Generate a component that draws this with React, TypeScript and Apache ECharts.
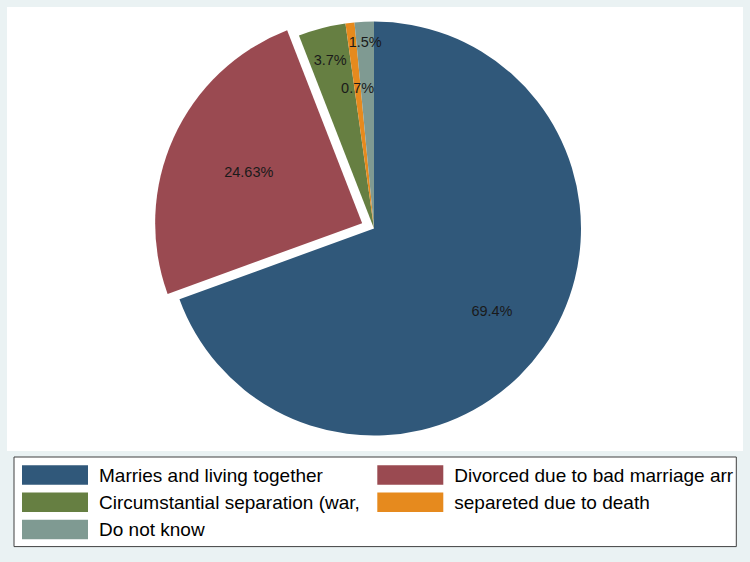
import React, { useEffect, useRef } from "react";
import * as echarts from "echarts";

// ---- data ----
const categories = [
  "Marries and living together",
  "Divorced due to bad marriage arr",
  "Circumstantial separation (war,",
  "separeted due to death",
  "Do not know",
];
const shares = [69.4, 24.63, 3.7, 0.7, 1.5];
const exploded = [false, true, false, false, false];

// ---- styles ----
const colors = ["#30587A", "#9A4A51", "#667F42", "#E68A1E", "#7F9A92"];
const labelRadii = [141, 134.5, 171, 138, 184];
const CENTER = [374, 228.5];
const FONT = "'Liberation Sans', Arial, sans-serif";

export default function App() {
  const ref = useRef<HTMLDivElement>(null);

  useEffect(() => {
    if (!ref.current) return;
    const chart = echarts.init(ref.current, undefined, { renderer: "svg" });

    const mainData = categories.map((name, i) => ({
      name,
      value: shares[i],
      selected: exploded[i],
      itemStyle: { color: colors[i] },
    }));

    const labelSeries = categories.map((_, i) => ({
      type: "pie",
      silent: true,
      legendHoverLink: false,
      center: CENTER,
      radius: [labelRadii[i] - 0.5, labelRadii[i] + 0.5],
      startAngle: 90,
      clockwise: true,
      z: 5,
      data: categories.map((name, j) => ({
        name,
        value: shares[j],
        itemStyle: { color: "transparent" },
        label: { show: j === i },
      })),
      label: {
        position: "inside",
        formatter: (p: any) => `${p.value}%`,
        color: "#1a1a1a",
        fontSize: 14.5,
        fontFamily: FONT,
      },
      labelLine: { show: false },
      emphasis: { disabled: true },
    }));

    chart.setOption({
      animation: false,
      backgroundColor: "#EAF2F3",
      graphic: [
        {
          type: "rect",
          left: 7,
          top: 7,
          shape: { width: 736, height: 444 },
          style: { fill: "#ffffff" },
          z: 0,
        },
      ],
      legend: {
        left: 14,
        top: 457,
        width: 722,
        orient: "horizontal",
        padding: [8, 2, 7, 8],
        itemWidth: 66,
        itemHeight: 19.5,
        itemGap: 7.3,
        icon: "rect",
        backgroundColor: "#ffffff",
        borderColor: "#404040",
        borderWidth: 1,
        selectedMode: false,
        data: categories.map((name, i) => ({
          name,
          textStyle: { width: i === 1 ? 280 : 271 },
        })),
        textStyle: {
          fontFamily: FONT,
          fontSize: 19,
          color: "#000000",
          width: 271,
          overflow: "truncate",
          ellipsis: "",
          padding: [0, 0, 0, 6],
          lineHeight: 20,
        },
      },
      series: [
        {
          type: "pie",
          center: CENTER,
          radius: 207,
          startAngle: 90,
          clockwise: true,
          selectedMode: "single",
          selectedOffset: 13,
          data: mainData,
          label: { show: false },
          labelLine: { show: false },
          itemStyle: { borderWidth: 0 },
          emphasis: { disabled: true },
          z: 2,
        },
        ...labelSeries,
      ],
    });

    return () => chart.dispose();
  }, []);

  return (
    <div
      ref={ref}
      style={{ position: "fixed", left: 0, top: 0, width: 750, height: 562 }}
    />
  );
}
